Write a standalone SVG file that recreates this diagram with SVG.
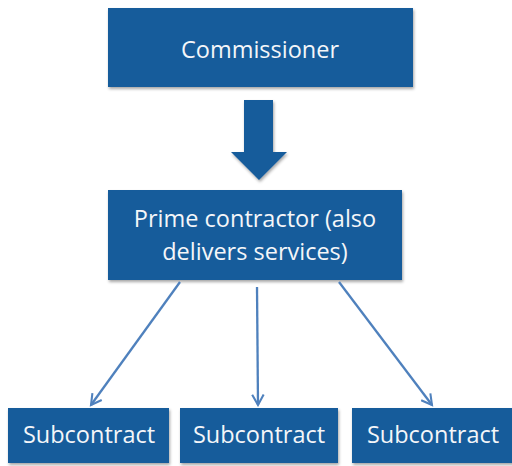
<svg xmlns="http://www.w3.org/2000/svg" width="512" height="466" viewBox="0 0 512 466">
  <style>
    .box { fill: #185B9B; filter: url(#shadow); }
    .label { fill: #F4F6F9; font-family: "Open Sans", "Noto Sans", "Liberation Sans", sans-serif; text-anchor: middle; font-size: 23.5px; }
    .link { stroke: #4F81BD; stroke-width: 2.3; fill: none; marker-end: url(#open-arrow); }
  </style>
  <defs>
    <filter id="shadow" x="-5%" y="-5%" width="115%" height="120%">
      <feGaussianBlur in="SourceAlpha" stdDeviation="1.5"/>
      <feOffset dx="1" dy="2" result="blur"/>
      <feFlood flood-color="#000" flood-opacity="0.35"/>
      <feComposite in2="blur" operator="in"/>
      <feMerge><feMergeNode/><feMergeNode in="SourceGraphic"/></feMerge>
    </filter>
    <marker id="open-arrow" viewBox="0 0 12 12" refX="10" refY="6" markerWidth="6" markerHeight="6" orient="auto" markerUnits="strokeWidth">
      <path d="M1,1 L10,6 L1,11" fill="none" stroke="#4F81BD" stroke-width="1.8"/>
    </marker>
  </defs>

  <g id="commissioner">
    <rect class="box" x="108" y="8" width="305" height="79"/>
    <text class="label" x="260" y="58">Commissioner</text>
  </g>

  <g id="flow-arrow">
    <path class="box" d="M244,100 H273 V152 H287 L259,180 L231,152 H244 Z"/>
  </g>

  <g id="prime-contractor">
    <rect class="box" x="108" y="190" width="294" height="90"/>
    <text class="label" x="255" y="227">Prime contractor (also</text>
    <text class="label" x="255" y="260">delivers services)</text>
  </g>

  <g id="subcontract-1">
    <rect class="box" x="8" y="408" width="161" height="55"/>
    <text class="label" x="89" y="443">Subcontract</text>
  </g>
  <g id="subcontract-2">
    <rect class="box" x="180" y="408" width="158" height="55"/>
    <text class="label" x="259" y="443">Subcontract</text>
  </g>
  <g id="subcontract-3">
    <rect class="box" x="352" y="408" width="162" height="55"/>
    <text class="label" x="433" y="443">Subcontract</text>
  </g>

  <g id="connectors">
    <line class="link" x1="180" y1="282" x2="91" y2="405"/>
    <line class="link" x1="257" y1="287" x2="258" y2="405"/>
    <line class="link" x1="339" y1="282" x2="432" y2="405"/>
  </g>
</svg>
